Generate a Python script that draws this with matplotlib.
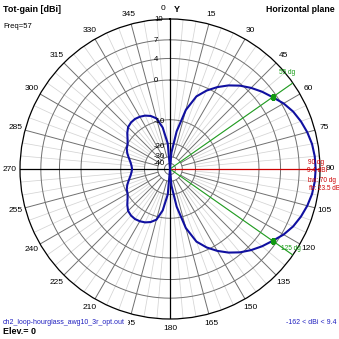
import numpy as np
import matplotlib
matplotlib.use("Agg")
import matplotlib.pyplot as plt

plt.rcParams['font.family'] = ['Liberation Sans', 'DejaVu Sans']

# ---------------- data ----------------
angles_deg = list(range(0, 361, 5))
# right (front) lobe 0..90, mirrored for 90..180
front_0_90 = [-162, -26, -14, -6.5, -2.5, -0.5, 1.1, 2.5, 3.7, 4.7, 5.6, 6.4,
              7.3, 8.0, 8.5, 8.9, 9.2, 9.35, 9.4]
# back lobe 270..360, mirrored for 180..270
back_270_360 = [-14.1, -13.8, -13.2, -12.3, -11.3, -10.5, -10.1, -9.2, -8.0,
                -7.0, -6.6, -6.5, -6.7, -7.1, -7.8, -9.0, -12.5, -20, -162]
gain_dbi = front_0_90 + front_0_90[-2::-1] + back_270_360[-2:0:-1] + back_270_360
ring_values = [10, 7, 4, 0, -10, -20, -30, -40]
angle_labels = list(range(15, 360, 15))
max_dir, max_gain = 90, 9.4
bw_lo, bw_hi, bw_gain = 55, 125, 6.4
fb_db, bw_deg = 23.5, 70
min_gain = -162
freq = 57
elev = 0
model_name = "ch2_loop-hourglass_awg10_3r_opt.out"

# --------------- ARRL-like log radial scale ---------------
A, B = 0.0488, 0.000343
TOP = 10.0

def fwd(db):
    db = np.asarray(db, dtype=float)
    d = TOP - db
    return np.exp(-(A * d + B * d * d))

def inv(p):
    p = np.clip(np.asarray(p, dtype=float), 1e-300, None)
    L = -np.log(p)
    disc = np.clip(A * A + 4 * B * L, 0, None)
    d = (-A + np.sqrt(disc)) / (2 * B)
    return TOP - d

W = H = 339
fig = plt.figure(figsize=(W / 100, H / 100), dpi=100)
cx, cy, R = 170, 169, 150
ax = fig.add_axes([(cx - R) / W, (H - cy - R) / H, 2 * R / W, 2 * R / H],
                  projection='polar')
ax.set_theta_zero_location('N')
ax.set_theta_direction(-1)
ax.set_rscale('function', functions=(fwd, inv))
ax.set_ylim(min_gain, TOP)
ax.grid(False)
ax.set_xticks([])
ax.set_yticks([])
ax.spines['polar'].set_color('black')
ax.spines['polar'].set_linewidth(0.9)

th_full = np.linspace(0, 2 * np.pi, 721)
# light spokes every 5 deg
for a in range(0, 360, 5):
    if a % 15:
        ax.plot([np.radians(a)] * 2, [-20, TOP], color='#d4d4d4', lw=0.55, zorder=1)
# rings
for v in ring_values[1:]:
    ax.plot(th_full, [v] * len(th_full), color='#707070', lw=0.7, zorder=2)
# dark spokes every 15 deg
for a in range(0, 360, 15):
    if a % 90:
        ax.plot([np.radians(a)] * 2, [-30, TOP], color='#707070', lw=0.7, zorder=2)
# axes
ax.plot([0, 0], [min_gain, TOP], color='black', lw=0.9, zorder=3)
ax.plot([np.pi] * 2, [min_gain, TOP], color='black', lw=0.9, zorder=3)
ax.plot([np.radians(270)] * 2, [min_gain, TOP], color='black', lw=0.9, zorder=3)
ax.plot([np.radians(max_dir)] * 2, [min_gain, TOP], color='#cc0000', lw=0.9, zorder=3)
for a in (bw_lo, bw_hi):
    ax.plot([np.radians(a)] * 2, [min_gain, TOP], color='#22a022', lw=0.8, zorder=3)

# pattern
ax.plot(np.radians(angles_deg), gain_dbi, color='#1010a0', lw=1.5, zorder=4)
ax.plot(np.radians([bw_lo, bw_hi]), [bw_gain, bw_gain], 's', color='#119911',
        ms=3, zorder=5)

fs = 6.0
# angle labels
for a in angle_labels:
    rp = 160 / (2 * R)
    xa = 0.5 + rp * np.sin(np.radians(a))
    ya = 0.5 + rp * np.cos(np.radians(a))
    ax.text(xa, ya, str(a), transform=ax.transAxes, ha='center', va='center',
            fontsize=fs, color='black', clip_on=False, zorder=6)
ax.text(0.5 - 7 / (2 * R), 0.5 + 161 / (2 * R), "0", transform=ax.transAxes,
        ha='center', va='center', fontsize=fs, clip_on=False)

# ring labels (left of the vertical axis)
for v in ring_values:
    rr = fwd(v) * R
    yy = np.sqrt(max(rr ** 2 - 12 ** 2, 0)) if rr > 13 else rr
    ax.text(0.5 - 16 / (2 * R), 0.5 + yy / (2 * R),
            str(v), transform=ax.transAxes, ha='left', va='center',
            fontsize=5.6, clip_on=False, zorder=6)

def ftext(x, y, s, **kw):
    fig.text(x / W, 1 - y / H, s, **kw)

ftext(3, 9, "Tot-gain [dBi]", fontsize=6.5, fontweight='bold', va='center')
ftext(3, 27, f"Freq={freq}", fontsize=5.5, va='center')
ftext(335, 9, "Horizontal plane", fontsize=6.3, fontweight='bold', va='center', ha='right')
ftext(177, 9, "Y", fontsize=6.5, fontweight='bold', va='center', ha='center')
ftext(3, 323, model_name, fontsize=5.0, color='#2020c0', va='center', zorder=7,
      bbox=dict(facecolor='white', edgecolor='none', pad=2.2))
ftext(3, 332, f"Elev.= {elev}", fontsize=6.4, fontweight='bold', va='center', zorder=8)
ftext(337, 323, f"{min_gain} < dBi < {max_gain}", fontsize=5.0, color='#2020c0',
      va='center', ha='right')

rs = 4.7
ftext(308, 163, f"{max_dir} dg", fontsize=rs, color='#cc0000', va='center')
ftext(307, 171, f"{max_gain} dBi", fontsize=rs, color='#cc0000', va='center')
ftext(308, 181, f"bw: {bw_deg} dg", fontsize=rs, color='#cc0000', va='center')
ftext(309, 189, f"fb: {fb_db} dB", fontsize=rs, color='#cc0000', va='center')
ftext(287, 73, f"{bw_lo} dg", fontsize=rs, color='#119911', va='center', ha='center')
ftext(291, 249, f"{bw_hi} dg", fontsize=rs, color='#119911', va='center', ha='center')

fig.savefig("out.png", dpi=100, facecolor='white')
